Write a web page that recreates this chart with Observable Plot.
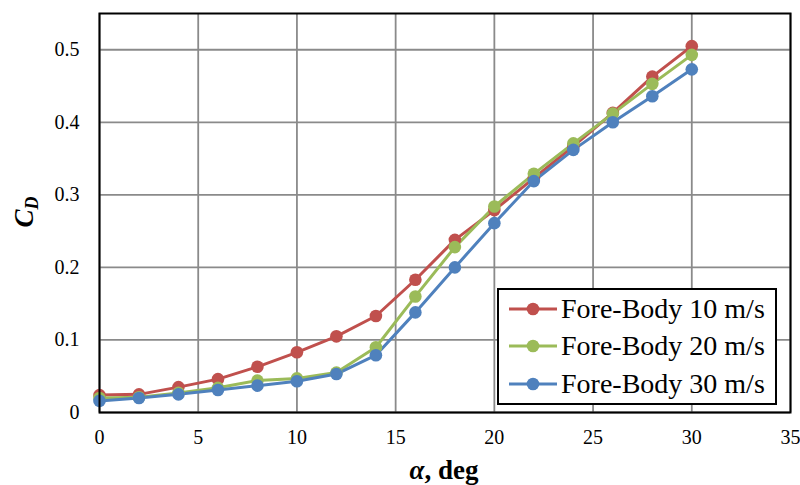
<!DOCTYPE html>
<html><head><meta charset="utf-8">
<script src="https://cdn.jsdelivr.net/npm/d3@7"></script>
<script src="https://cdn.jsdelivr.net/npm/@observablehq/plot@0.6"></script>
<style>
body{margin:0;background:#fff;}
#wrap{position:relative;width:800px;height:485px;font-family:"Liberation Serif","Times New Roman",serif;}
#wrap svg, #wrap svg text{font-family:"Liberation Serif","Times New Roman",serif !important;}
#legend{position:absolute;left:497px;top:288px;width:276px;height:113px;border:2px solid #000;background:#fff;box-sizing:content-box;}
.row{display:flex;align-items:center;height:37.5px;padding-left:10px;}
.row svg{margin-right:4px;}
.row span{font-size:28px;line-height:1;color:#000;white-space:nowrap;}
</style></head><body><div id="wrap"></div>
<script>
const alpha = [0, 2, 4, 6, 8, 10, 12, 14, 16, 18, 20, 22, 24, 26, 28, 30];
const cd10 = [0.024, 0.025, 0.035, 0.046, 0.063, 0.083, 0.105, 0.133, 0.183, 0.238, 0.279, 0.323, 0.367, 0.413, 0.463, 0.505];
const cd20 = [0.020, 0.021, 0.027, 0.034, 0.044, 0.047, 0.055, 0.090, 0.160, 0.228, 0.284, 0.329, 0.371, 0.412, 0.453, 0.493];
const cd30 = [0.016, 0.020, 0.025, 0.031, 0.037, 0.043, 0.053, 0.079, 0.138, 0.200, 0.261, 0.319, 0.362, 0.400, 0.436, 0.473];
const seriesNames = ["Fore-Body 10 m/s", "Fore-Body 20 m/s", "Fore-Body 30 m/s"];
const seriesColors = ["#C0504D", "#9BBB59", "#4F81BD"];
const xTicks = [0, 5, 10, 15, 20, 25, 30, 35];
const yTicks = [0, 0.1, 0.2, 0.3, 0.4, 0.5];

const seriesValues = [cd10, cd20, cd30];
const data = seriesValues.flatMap((vals, i) => vals.map((v, j) => ({series: seriesNames[i], a: alpha[j], cd: v})));

const font = '"Liberation Serif","Times New Roman",serif';
const chart = Plot.plot({
  width: 800, height: 485,
  marginLeft: 99, marginRight: 10, marginTop: 13, marginBottom: 73,
  style: {fontFamily: "Liberation Serif, serif", fontSize: "20px", background: "#fff", color: "#000"},
  x: {domain: [0, 35], ticks: xTicks, label: null},
  y: {domain: [0, 0.55], ticks: yTicks, label: null},
  color: {domain: seriesNames, range: seriesColors},
  marks: [
    Plot.gridX(xTicks, {stroke: "#8a8a8a", strokeOpacity: 1, strokeWidth: 1.8}),
    Plot.gridY(yTicks, {stroke: "#8a8a8a", strokeOpacity: 1, strokeWidth: 1.8}),
    Plot.axisX(xTicks, {tickSize: 0, tickPadding: 17, fontSize: 20, tickFormat: d => String(d)}),
    Plot.axisY(yTicks, {tickSize: 0, tickPadding: 20, fontSize: 20, tickFormat: d => d === 0 ? "0" : d3.format(".1f")(d)}),
    Plot.line(data, {x: "a", y: "cd", z: "series", stroke: "series", strokeWidth: 3}),
    Plot.dot(data, {x: "a", y: "cd", fill: "series", r: 6.3}),
    Plot.frame({stroke: "#000", strokeWidth: 2})
  ]
});

const wrap = document.getElementById("wrap");
wrap.appendChild(chart);

const svg = d3.select(chart);
// x-axis title
const xt = svg.append("text")
  .attr("x", 444).attr("y", 479)
  .attr("text-anchor", "middle")
  .attr("font-family", font).attr("font-size", 27).attr("font-weight", "bold").attr("fill", "#000");
xt.append("tspan").attr("font-style", "italic").text("α");
xt.append("tspan").text(", deg");
// y-axis title
const yt = svg.append("text")
  .attr("transform", "translate(33,212) rotate(-90)")
  .attr("text-anchor", "middle")
  .attr("font-family", font).attr("font-size", 27).attr("font-weight", "bold").attr("font-style", "italic").attr("fill", "#000");
yt.append("tspan").text("C");
yt.append("tspan").attr("font-size", 18).attr("dy", 5).text("D");

// legend
const legend = document.createElement("div");
legend.id = "legend";
seriesNames.forEach((name, i) => {
  const row = document.createElement("div");
  row.className = "row";
  row.innerHTML = `<svg width="48" height="20"><line x1="0" y1="10" x2="48" y2="10" stroke="${seriesColors[i]}" stroke-width="3"/><circle cx="24" cy="10" r="6.3" fill="${seriesColors[i]}"/></svg><span>${name}</span>`;
  legend.appendChild(row);
});
wrap.appendChild(legend);
</script></body></html>
